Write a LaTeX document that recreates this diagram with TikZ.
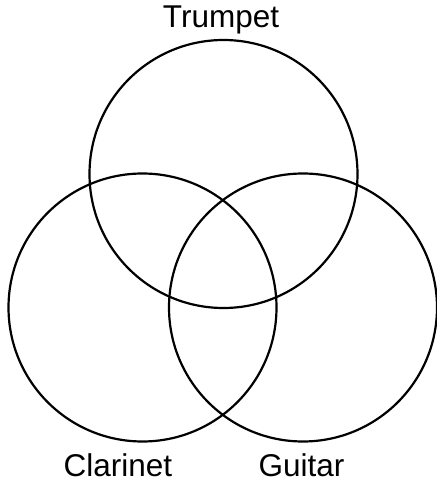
\documentclass[tikz,border=0pt]{standalone}
\usepackage{fontspec}
\setmainfont{Liberation Sans}
\usepackage{tikz}
\usepackage{xcolor}
\usetikzlibrary{positioning}
\definecolor{cLine}{HTML}{000000}

\tikzset{
  setcircle/.style={draw=cLine, circle, line width=2.2pt, minimum size=268pt, inner sep=0pt},
  setlabel/.style={font=\fontsize{31.5}{35}\selectfont, text=cLine, anchor=base, inner sep=0pt},
}

\begin{document}
\begin{tikzpicture}[x=1pt, y=1pt]
        \useasboundingbox (0,0) rectangle (437,483);
        % The three sets
        \node[setcircle] (trumpet) at (223.5, 309) {};
        \node[setcircle] (clarinet) at (142.5, 175.5) {};
        \node[setcircle] (guitar) at (303, 175.5) {};
        % Labels
        \node[setlabel] (trumpetlbl) at (221, 455) {Trumpet};
        \node[setlabel] (clarinetlbl) at (118, 6) {Clarinet};
        \node[setlabel] (guitarlbl) at (301.5, 6) {Guitar};
      \end{tikzpicture}
\end{document}
